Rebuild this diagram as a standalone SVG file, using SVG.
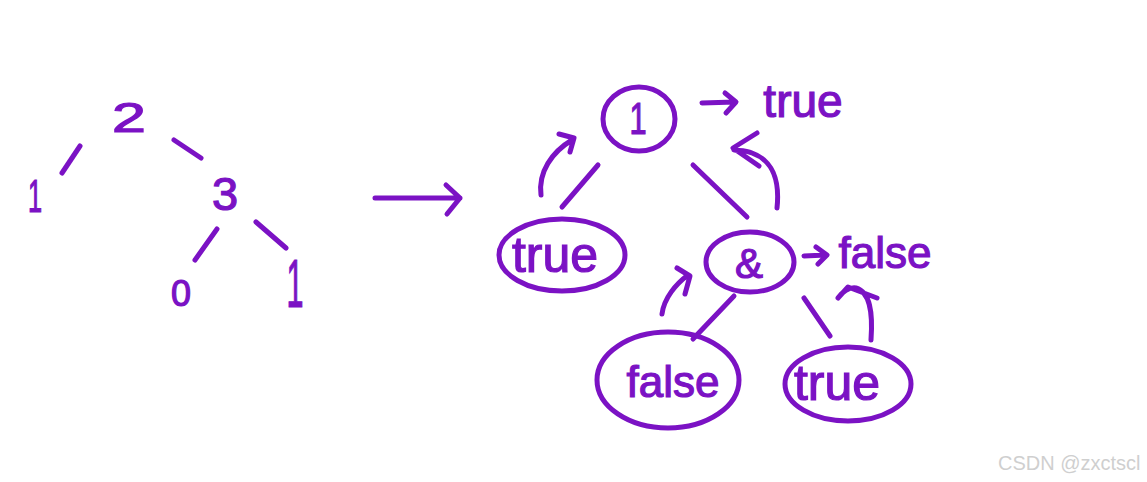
<svg xmlns="http://www.w3.org/2000/svg" width="1147" height="482" viewBox="0 0 1147 482">
<style>
.t{font-family:"Liberation Sans","DejaVu Sans",sans-serif;fill:#7b12c4;stroke:#7b12c4;stroke-width:1.2;text-anchor:middle}
.s{fill:none;stroke:#7b12c4;stroke-width:5;stroke-linecap:round;stroke-linejoin:round}
.wm{font-family:"Liberation Sans","DejaVu Sans",sans-serif;fill:#cfcfcf;font-size:20px}
</style>
<rect width="1147" height="482" fill="#fff"/>
<g id="connectors">
  <line class="s" x1="62" y1="173" x2="80" y2="146"/>
  <line class="s" x1="174" y1="140" x2="201" y2="158"/>
  <line class="s" x1="217" y1="229" x2="195" y2="260"/>
  <line class="s" x1="256" y1="222" x2="286" y2="248"/>
  <path class="s" d="M375,198 L460,198 M446,185 L460,198 L447,214"/>
  <line class="s" x1="562" y1="207" x2="598" y2="165"/>
  <line class="s" x1="693" y1="165" x2="747" y2="217"/>
  <line class="s" x1="734" y1="296" x2="693" y2="339"/>
  <line class="s" x1="804" y1="298" x2="830" y2="336"/>
  <path class="s" d="M541,195 C538,172 552,152 572,140 M559,134 L574,138 L570,152"/>
  <path class="s" d="M777,208 C780,180 772,160 752,153 C745,150 737,151 734,150 M757,133 L733,148 L759,166"/>
  <path class="s" d="M662,314 C664,298 676,284 688,275 M677,268 L690,276 L685,294"/>
  <path class="s" d="M871,340 C873,312 870,292 856,288 C849,287 842,292 838,298 M838,298 L848,287 L877,298"/>
  <path class="s" d="M702,103 L735,102 M725,93 L736,102 L726,113"/>
  <path class="s" d="M804,256 L826,255 M816,247 L827,255 L818,264"/>
</g>
<g id="n2"><text class="t" transform="translate(129,132) scale(1.45,1)" font-size="42">2</text></g>
<g id="n1a"><text class="t" transform="translate(35,212) scale(0.55,1)" font-size="46" stroke-width="3">1</text></g>
<g id="n3"><text class="t" x="225" y="210" font-size="47">3</text></g>
<g id="n0"><text class="t" x="181" y="306" font-size="36">0</text></g>
<g id="n1b"><text class="t" transform="translate(295,307) scale(0.45,1)" font-size="68" stroke-width="3.5">1</text></g>
<g id="root"><ellipse class="s" cx="639" cy="119" rx="36" ry="32"/><text class="t" transform="translate(638,134) scale(0.7,1)" font-size="44" stroke-width="2">1</text></g>
<g id="rootval"><text class="t" x="803" y="117" font-size="46">true</text></g>
<g id="ltrue"><ellipse class="s" cx="562" cy="255" rx="63" ry="36"/><text class="t" x="555" y="272" font-size="50">true</text></g>
<g id="and"><ellipse class="s" cx="750" cy="262" rx="44" ry="30"/><text class="t" x="749" y="278" font-size="42">&amp;</text></g>
<g id="andval"><text class="t" x="885" y="268" font-size="44">false</text></g>
<g id="lfalse"><ellipse class="s" cx="668" cy="380" rx="71" ry="48"/><text class="t" x="673" y="397" font-size="44">false</text></g>
<g id="rtrue"><ellipse class="s" cx="848" cy="384" rx="63" ry="37"/><text class="t" x="837" y="400" font-size="50">true</text></g>
<text class="wm" x="998" y="470">CSDN @zxctscl</text>
</svg>
